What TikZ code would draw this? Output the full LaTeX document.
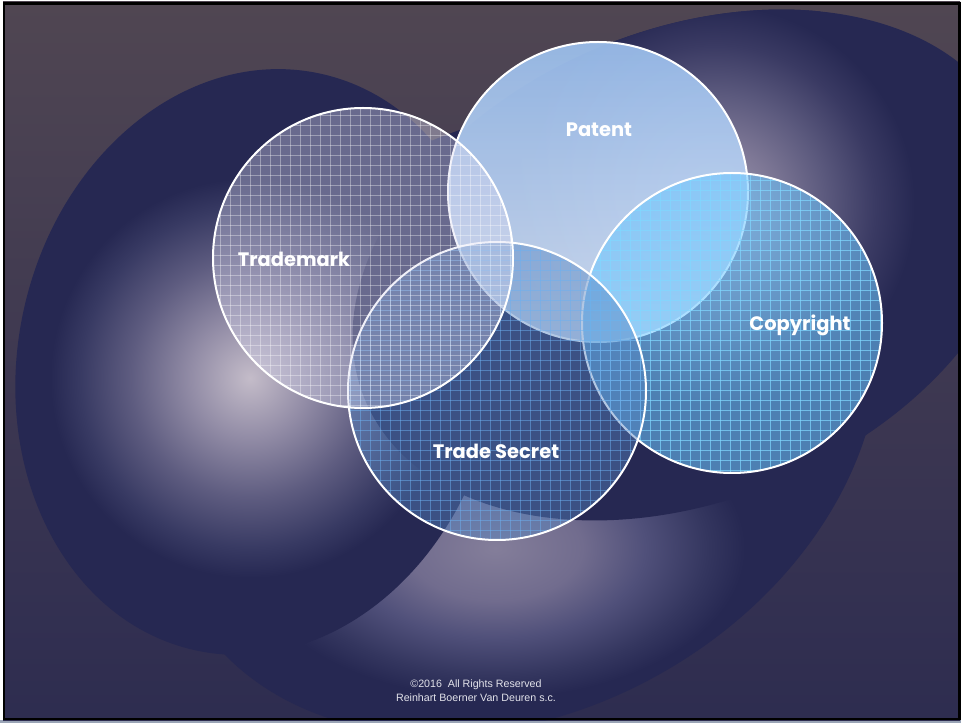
\documentclass[tikz,border=0pt]{standalone}
\usepackage{fontspec}
\setmainfont{Liberation Sans}
\newfontfamily\lblfont{Poppins}
\definecolor{navy}{HTML}{262852}
\definecolor{bgtop}{HTML}{524754}
\definecolor{bgA}{HTML}{504652}
\definecolor{bgB}{HTML}{3B3651}
\definecolor{bgC}{HTML}{272850}
\definecolor{bgbot}{HTML}{252750}
\definecolor{gL0}{HTML}{C4BCC9}
\definecolor{gL1}{HTML}{928CA6}
\definecolor{gL2}{HTML}{5E5C80}
\definecolor{gL3}{HTML}{383A63}
\definecolor{gR0}{HTML}{A09AB2}
\definecolor{gR1}{HTML}{7E7896}
\definecolor{gR2}{HTML}{5C5A7E}
\definecolor{gR3}{HTML}{3A3A63}
\definecolor{gB0}{HTML}{847E9A}
\definecolor{gB1}{HTML}{716C8E}
\definecolor{gB2}{HTML}{50507A}
\definecolor{gB3}{HTML}{34365F}
\definecolor{patTop}{HTML}{9CC0EE}
\definecolor{patBot}{HTML}{D6E3F6}
\definecolor{cpFill}{HTML}{6CC6FF}
\definecolor{cpGrid}{HTML}{80D8FF}
\definecolor{tsFill}{HTML}{5585C2}
\definecolor{tsGrid}{HTML}{6CB0F0}
\definecolor{tmFill}{HTML}{D8D8F0}
\definecolor{footc}{HTML}{E2E2EA}
\definecolor{stripc}{HTML}{9AA4B6}
\pgfdeclareverticalshading{bgsh}{100bp}{color(0bp)=(bgbot); color(15bp)=(bgC); color(45bp)=(bgB); color(75bp)=(bgA); color(100bp)=(bgtop)}
\pgfdeclareverticalshading{patsh}{100bp}{color(0bp)=(patBot); color(25bp)=(patBot); color(75bp)=(patTop); color(100bp)=(patTop)}
\pgfdeclareradialshading{glowL}{\pgfpoint{0bp}{0bp}}{color(0bp)=(gL0); color(6.8bp)=(gL1); color(13.6bp)=(gL2); color(19.3bp)=(gL3); color(22.7bp)=(navy); color(50bp)=(navy)}
\pgfdeclareradialshading{glowR}{\pgfpoint{0bp}{0bp}}{color(0bp)=(gR0); color(6.8bp)=(gR1); color(12.5bp)=(gR2); color(18.2bp)=(gR3); color(22.7bp)=(navy); color(50bp)=(navy)}
\pgfdeclareradialshading{glowB}{\pgfpoint{0bp}{0bp}}{color(0bp)=(gB0); color(8.75bp)=(gB1); color(15bp)=(gB2); color(21.25bp)=(gB3); color(25bp)=(navy); color(50bp)=(navy)}
\begin{document}
\begin{tikzpicture}[x=0.75pt,y=-0.75pt,
  lbl/.style={text=white, font=\lblfont\bfseries\fontsize{14.6}{18}\selectfont, anchor=base, inner sep=0pt},
  ring/.style={draw=white, line width=1.5pt},
  gridline/.style={line width=0.7pt},
  foot/.style={text=footc, font=\fontsize{8}{9.75}\selectfont, inner sep=0pt}]
\useasboundingbox (0,0) rectangle (961,723);
% page and background
\fill[white] (0,0) rectangle (961,723);
\fill[stripc] (0,720) rectangle (961,723);
\shade[shading=bgsh] (3,2) rectangle (960,720);
% background blobs
\begin{scope}
  \clip (3,2) rectangle (960,720);
  % bottom blob
  \begin{scope}
    \clip[rotate around={30:(520,420)}] (520,420) ellipse [x radius=380, y radius=290];
    \fill[navy] (0,0) rectangle (961,723);
    \shade[shading=glowB] (495,548) ellipse [x radius=250, y radius=150];
  \end{scope}
  % left blob
  \begin{scope}
    \clip[rotate around={-12:(258,362)}] (258,362) ellipse [x radius=240, y radius=295];
    \fill[navy] (0,0) rectangle (961,723);
    \shade[shading=glowL] (250,378) circle (220);
  \end{scope}
  % right blob
  \begin{scope}
    \clip[rotate around={22.7:(688,265)}] (688,265) ellipse [x radius=350, y radius=235];
    \fill[navy] (0,0) rectangle (961,723);
    \shade[shading=glowR] (715,205) circle (220);
  \end{scope}
\end{scope}
% Patent
\shade[shading=patsh, fill opacity=0.92] (598,192) circle (150);
\draw[ring] (598,192) circle (150);
% Copyright
\fill[cpFill, fill opacity=0.56] (732,323) circle (150);
\begin{scope}
  \clip (732,323) circle (150);
  \foreach \k in {580,590,...,890} {\draw[gridline, cpGrid, draw opacity=0.7] (\k,170) -- (\k,480);}
  \foreach \k in {170,180,...,480} {\draw[gridline, cpGrid, draw opacity=0.7] (580,\k) -- (890,\k);}
\end{scope}
\draw[ring] (732,323) circle (150);
% Trade Secret
\fill[tsFill, fill opacity=0.45] (497,391) circle (149);
\begin{scope}
  \clip (497,391) circle (149);
  \foreach \k in {340,350,...,650} {\draw[gridline, tsGrid, draw opacity=0.5] (\k,240) -- (\k,545);}
  \foreach \k in {240,250,...,545} {\draw[gridline, tsGrid, draw opacity=0.5] (340,\k) -- (650,\k);}
\end{scope}
\draw[ring] (497,391) circle (149);
% Trademark
\fill[tmFill, fill opacity=0.38] (363,258) circle (150);
\begin{scope}
  \clip (363,258) circle (150);
  \foreach \k in {210,220,...,520} {\draw[gridline, white, draw opacity=0.35] (\k,105) -- (\k,410);}
  \foreach \k in {105,115,...,410} {\draw[gridline, white, draw opacity=0.35] (210,\k) -- (520,\k);}
\end{scope}
\draw[ring] (363,258) circle (150);
% labels
\node[lbl] (patent) at (599,137) {Patent};
\node[lbl] (trademark) at (294,267) {Trademark};
\node[lbl] (copyright) at (800,331) {Copyright};
\node[lbl] (tradesecret) at (496,459) {Trade Secret};
% footer
\node[foot] (foot1) at (476,685) {\textcopyright2016\ \ All Rights Reserved};
\node[foot] (foot2) at (476,698) {Reinhart Boerner Van Deuren s.c.};
% frame
\draw[black, line width=2.2pt] (4,3.5) rectangle (959.5,719);
\end{tikzpicture}
\end{document}
